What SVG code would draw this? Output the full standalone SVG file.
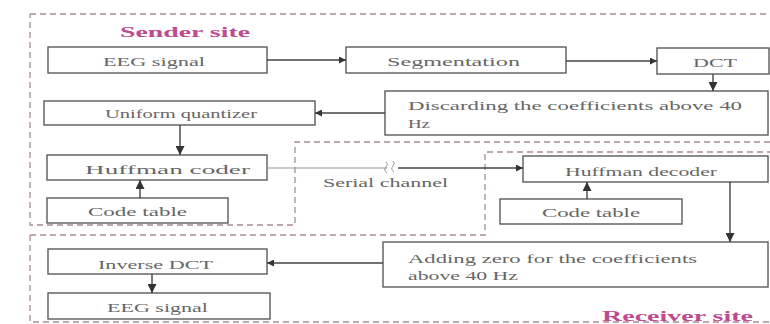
<svg xmlns="http://www.w3.org/2000/svg" width="770" height="324" viewBox="0 0 770 324">
<style>
.box{fill:#fff;stroke:#5a5a5a;stroke-width:1.4}
.t{font-family:"Liberation Serif","Times New Roman",serif;font-size:13.5px;fill:#666}
.site{font-family:"Liberation Serif","Times New Roman",serif;font-size:15px;font-weight:bold;fill:#c04a8e}
.bnd{fill:none;stroke:#a88a98;stroke-width:1.3;stroke-dasharray:6,4}
.ln{fill:none;stroke:#444;stroke-width:1.4}
.thin{fill:none;stroke:#999;stroke-width:1}
</style>
<defs>
<marker id="ah" viewBox="0 0 10 10" refX="10" refY="5" markerWidth="7" markerHeight="7" orient="auto" markerUnits="userSpaceOnUse">
<path d="M0,0 L10,5 L0,10 z" fill="#333"/>
</marker>
<marker id="ahb" viewBox="0 0 10 10" refX="10" refY="5" markerWidth="9" markerHeight="9" orient="auto" markerUnits="userSpaceOnUse">
<path d="M0,0 L10,5 L0,10 z" fill="#333"/>
</marker>
</defs>
<rect width="770" height="324" fill="#fff"/>

<g id="boundaries">
<path class="bnd" d="M30,14 H770 M770,142 H295 V225 H30 V14"/>
<path class="bnd" d="M30,235 H485 V152 H770 M30,235 V322 H770"/>
</g>

<g id="sender-label"><text class="site" x="120" y="37" textLength="130" lengthAdjust="spacingAndGlyphs">Sender site</text></g>
<g id="receiver-label"><text class="site" x="602" y="321" textLength="151" lengthAdjust="spacingAndGlyphs">Receiver site</text></g>

<g id="eeg-in"><rect class="box" x="48" y="47" width="219" height="26"/><text class="t" x="103" y="66" textLength="102" lengthAdjust="spacingAndGlyphs">EEG signal</text></g>
<g id="segmentation"><rect class="box" x="346" y="47" width="220" height="26"/><text class="t" x="387" y="66" textLength="133" lengthAdjust="spacingAndGlyphs">Segmentation</text></g>
<g id="dct"><rect class="box" x="657" y="48" width="112" height="26"/><text class="t" x="693" y="67" textLength="44" lengthAdjust="spacingAndGlyphs">DCT</text></g>
<g id="discard"><rect class="box" x="385" y="91" width="383" height="44"/><text class="t" x="408" y="110" textLength="334" lengthAdjust="spacingAndGlyphs">Discarding the coefficients above 40</text><text class="t" x="408" y="128" textLength="22" lengthAdjust="spacingAndGlyphs">Hz</text></g>
<g id="quantizer"><rect class="box" x="44" y="101" width="271" height="24"/><text class="t" x="105" y="118" textLength="152" lengthAdjust="spacingAndGlyphs">Uniform quantizer</text></g>
<g id="huff-coder"><rect class="box" x="47" y="155" width="220" height="25"/><text class="t" x="85" y="174" textLength="165" lengthAdjust="spacingAndGlyphs">Huffman coder</text></g>
<g id="code-table-s"><rect class="box" x="47" y="198" width="181" height="25"/><text class="t" x="88" y="216" textLength="99" lengthAdjust="spacingAndGlyphs">Code table</text></g>
<g id="serial"><text class="t" x="323" y="187" textLength="125" lengthAdjust="spacingAndGlyphs">Serial channel</text></g>
<g id="huff-decoder"><rect class="box" x="523" y="156" width="245" height="26"/><text class="t" x="565" y="176" textLength="152" lengthAdjust="spacingAndGlyphs">Huffman decoder</text></g>
<g id="code-table-r"><rect class="box" x="500" y="199" width="182" height="25"/><text class="t" x="542" y="217" textLength="98" lengthAdjust="spacingAndGlyphs">Code table</text></g>
<g id="adding"><rect class="box" x="383" y="242" width="385" height="45"/><text class="t" x="408" y="263" textLength="289" lengthAdjust="spacingAndGlyphs">Adding zero for the coefficients</text><text class="t" x="408" y="280" textLength="110" lengthAdjust="spacingAndGlyphs">above 40 Hz</text></g>
<g id="idct"><rect class="box" x="48" y="249" width="219" height="25"/><text class="t" x="98" y="269" textLength="115" lengthAdjust="spacingAndGlyphs">Inverse DCT</text></g>
<g id="eeg-out"><rect class="box" x="48" y="293" width="222" height="26"/><text class="t" x="107" y="312" textLength="101" lengthAdjust="spacingAndGlyphs">EEG signal</text></g>

<g id="connectors">
<line class="ln" x1="267" y1="60" x2="346" y2="60" marker-end="url(#ah)"/>
<line class="ln" x1="566" y1="61" x2="657" y2="61" marker-end="url(#ah)"/>
<line class="ln" x1="713" y1="74" x2="713" y2="91" marker-end="url(#ahb)"/>
<line class="ln" x1="385" y1="113" x2="315" y2="113" marker-end="url(#ah)"/>
<line class="ln" x1="180" y1="125" x2="180" y2="155" marker-end="url(#ahb)"/>
<line class="ln" x1="140" y1="198" x2="140" y2="180" marker-end="url(#ahb)"/>
<line class="thin" x1="267" y1="168" x2="387" y2="168"/>
<path class="thin" d="M386,162 q3,2 0,5 q-3,3 1,6 M393,161 q3,2 0,5 q-3,3 1,6"/>
<line class="ln" x1="398" y1="168" x2="523" y2="168" marker-end="url(#ah)"/>
<line class="ln" x1="587" y1="199" x2="587" y2="182" marker-end="url(#ahb)"/>
<line class="ln" x1="730" y1="182" x2="730" y2="242" marker-end="url(#ahb)"/>
<line class="ln" x1="383" y1="263" x2="267" y2="263" marker-end="url(#ah)"/>
<line class="ln" x1="152" y1="274" x2="152" y2="293" marker-end="url(#ahb)"/>
</g>
</svg>
